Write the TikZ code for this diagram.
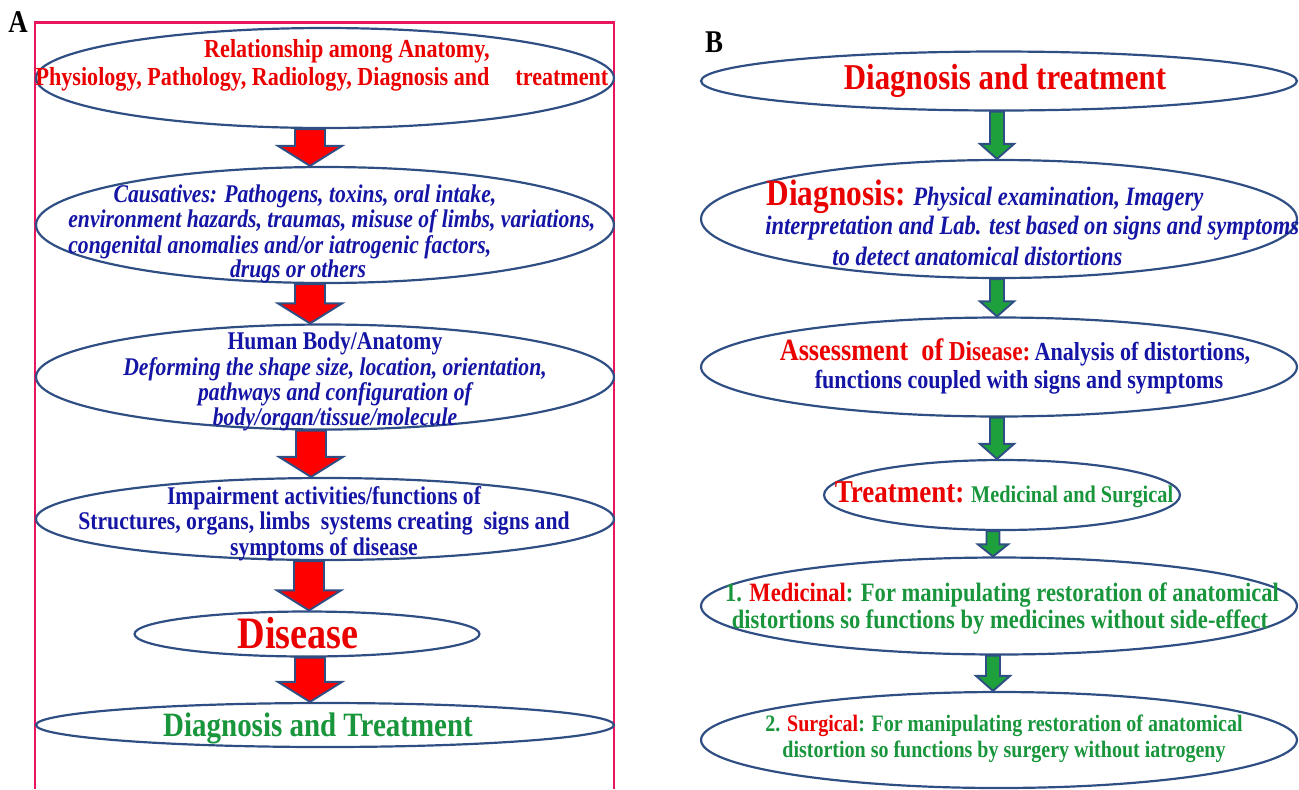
\documentclass[tikz,border=0pt]{standalone}
\usepackage{fontspec}
\setmainfont{Liberation Serif}[FakeStretch=0.85]
\usetikzlibrary{calc,shapes.geometric}

\definecolor{ovalline}{RGB}{47,78,132}
\definecolor{framepink}{RGB}{232,22,95}
\definecolor{txtred}{RGB}{235,0,0}
\definecolor{txtblue}{RGB}{20,20,165}
\definecolor{txtgreen}{RGB}{25,150,60}
\definecolor{arrowred}{RGB}{255,0,0}
\definecolor{arrowgreen}{RGB}{30,160,60}

\tikzset{
  oval/.style={ellipse, draw=ovalline, line width=1.25pt, inner sep=0pt},
  txt/.style={anchor=base, inner sep=0pt, font=\bfseries\fontsize{14.5}{14.5}\selectfont},
  txtw/.style={txt, anchor=base west},
  it/.style={font=\bfseries\itshape\fontsize{14.5}{14.5}\selectfont},
  panel/.style={inner sep=0pt, font=\bfseries\fontsize{18}{18}\selectfont},
}

% block arrow from the bottom of one oval to the top of the next
\newcommand{\fatarrow}[7]{%
  \path[draw=ovalline, line width=1.1pt, fill=#7]
    let \p1=(#1.south), \p2=(#2.north) in
    ({\x1+(#3)-(#4)},\y1) -- ({\x1+(#3)+(#4)},\y1) -- ({\x1+(#3)+(#4)},{\y2+#6})
    -- ({\x1+(#3)+(#5)},{\y2+#6}) -- ({\x1+(#3)},\y2) -- ({\x1+(#3)-(#5)},{\y2+#6})
    -- ({\x1+(#3)-(#4)},{\y2+#6}) -- cycle;}

\begin{document}
\begin{tikzpicture}[x=0.02cm, y=-0.02cm]
\useasboundingbox (0,0) rectangle (1299,789);

%% panel A
\node[panel] (pa) at (18,22) {A};
\draw[framepink, line width=1.7pt] (35,789) -- (35,22) -- (614,22) -- (614,789);

\begin{scope}[every node/.style={oval, minimum width=11.56cm}]
    \node[minimum height=2.0cm] (a1) at (325,78) {};
    \node[minimum height=2.32cm] (a2) at (325,225) {};
    \node[minimum height=2.1cm] (a3) at (325,377) {};
    \node[minimum height=1.64cm] (a4) at (325,519) {};
    \node[minimum width=6.9cm, minimum height=0.9cm] (a5) at (307,634) {};
    \node[minimum height=0.88cm] (a6) at (325,725) {};
\end{scope}

\begin{scope}[every node/.style={txt, txtred, font=\bfseries\fontsize{14.8}{14.8}\selectfont}]
    \node (a1l1) at (347,57) {Relationship among Anatomy,};
    \node (a1l2) at (322,85) {Physiology, Pathology, Radiology, Diagnosis and\quad treatment};
\end{scope}

\begin{scope}[every node/.style={txt, it, txtblue}]
    \node (a2l1) at (305,202) {Causatives: Pathogens, toxins, oral intake,};
    \node[anchor=base west] (a2l2) at (68,227) {environment hazards, traumas, misuse of limbs, variations,};
    \node[anchor=base west] (a2l3) at (68,253) {congenital anomalies and/or iatrogenic factors,};
    \node (a2l4) at (298,277) {drugs or others};

    \node[font=\bfseries\fontsize{14.5}{14.5}\selectfont] (a3l1) at (335,349) {Human Body/Anatomy};
    \node (a3l2) at (335,375) {Deforming the shape size, location, orientation,};
    \node (a3l3) at (335,400) {pathways and configuration of};
    \node (a3l4) at (335,425) {body/organ/tissue/molecule};
\end{scope}

\begin{scope}[every node/.style={txt, txtblue}]
    \node (a4l1) at (324,504) {Impairment activities/functions of};
    \node (a4l2) at (324,529) {Structures, organs, limbs\ \ systems creating\ \ signs and};
    \node (a4l3) at (324,555) {symptoms of disease};
\end{scope}

\node[txt, txtred, font=\bfseries\fontsize{25.6}{25.6}\selectfont] (a5l) at (298,648) {Disease};
\node[txt, txtgreen, font=\bfseries\fontsize{19.4}{19.4}\selectfont] (a6l) at (318,736) {Diagnosis and Treatment};

\fatarrow{a1}{a2}{-0.3cm}{0.3cm}{0.64cm}{0.4cm}{arrowred}
\fatarrow{a2}{a3}{-0.3cm}{0.3cm}{0.64cm}{0.4cm}{arrowred}
\fatarrow{a3}{a4}{-0.28cm}{0.3cm}{0.64cm}{0.4cm}{arrowred}
\fatarrow{a4}{a5}{-0.32cm}{0.3cm}{0.64cm}{0.4cm}{arrowred}
\fatarrow{a5}{a6}{0.06cm}{0.3cm}{0.64cm}{0.4cm}{arrowred}

%% panel B
\node[panel] (pb) at (714,42) {B};

\begin{scope}[every node/.style={oval, minimum width=11.92cm}]
    \node[minimum height=1.18cm] (b1) at (999,81) {};
    \node[minimum height=2.36cm] (b2) at (999,219) {};
    \node[minimum height=1.98cm] (b3) at (999,367) {};
    \node[minimum width=7.12cm, minimum height=1.4cm] (b4) at (1002,495) {};
    \node[minimum height=1.94cm] (b5) at (999,606) {};
    \node[minimum height=1.92cm] (b6) at (999,740) {};
\end{scope}

\node[txt, txtred, font=\bfseries\fontsize{20.7}{20.7}\selectfont] (b1l) at (1005,89) {Diagnosis and treatment};

\begin{scope}[every node/.style={txtw, txtblue, font=\bfseries\itshape\fontsize{15.1}{15.1}\selectfont}]
    \node (b2l1) at (766,205) {{\upshape\fontsize{21}{21}\selectfont\color{txtred}Diagnosis:} Physical examination, Imagery};
    \node (b2l2) at (765,234) {interpretation and Lab. test based on signs and symptoms};
    \node (b2l3) at (832,265) {to detect anatomical distortions};
\end{scope}

\begin{scope}[every node/.style={txt, txtblue, font=\bfseries\fontsize{14.8}{14.8}\selectfont}]
    \node (b3l1) at (1015,360) {{\color{txtred}\fontsize{17.6}{17.6}\selectfont Assessment\ \ of} {\color{txtred}\fontsize{15.6}{15.6}\selectfont Disease:}\,Analysis of distortions,};
    \node (b3l2) at (1019,388) {functions coupled with signs and symptoms};
\end{scope}

\node[txt, txtgreen, font=\bfseries\fontsize{13.6}{13.6}\selectfont] (b4l) at (1004,502) {{\color{txtred}\fontsize{18.1}{18.1}\selectfont Treatment:} Medicinal and Surgical};

\begin{scope}[every node/.style={txt, txtgreen, font=\bfseries\fontsize{15.1}{15.1}\selectfont}]
    \node (b5l1) at (1002,601) {1. {\color{txtred}Medicinal}: For manipulating restoration of anatomical};
    \node (b5l2) at (1000,628) {distortions so functions by medicines without side-effect};
    \node[font=\bfseries\fontsize{13.4}{13.4}\selectfont] (b6l1) at (1004,731) {2. {\color{txtred}Surgical}: For manipulating\ restoration of anatomical};
    \node[font=\bfseries\fontsize{13.4}{13.4}\selectfont] (b6l2) at (1004,757) {distortion so functions\ by surgery without iatrogeny};
\end{scope}

\fatarrow{b1}{b2}{-0.04cm}{0.14cm}{0.34cm}{0.3cm}{arrowgreen}
\fatarrow{b2}{b3}{-0.04cm}{0.14cm}{0.34cm}{0.3cm}{arrowgreen}
\fatarrow{b3}{b4}{-0.04cm}{0.14cm}{0.34cm}{0.3cm}{arrowgreen}
\fatarrow{b4}{b5}{-0.18cm}{0.13cm}{0.3cm}{0.24cm}{arrowgreen}
\fatarrow{b5}{b6}{-0.12cm}{0.14cm}{0.34cm}{0.3cm}{arrowgreen}

\end{tikzpicture}
\end{document}
